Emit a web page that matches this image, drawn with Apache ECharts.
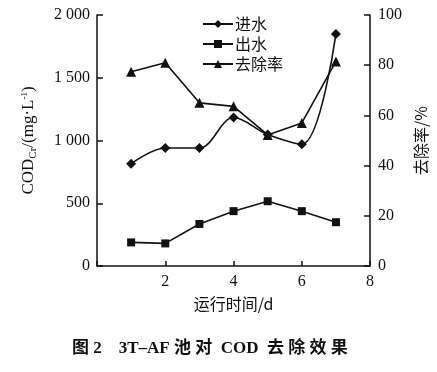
<!DOCTYPE html>
<html><head><meta charset="utf-8">
<script src="https://cdn.jsdelivr.net/npm/echarts@6/dist/echarts.min.js"></script>
<style>html,body{margin:0;padding:0;background:#fff;}#c{width:437px;height:372px;}</style>
</head><body><div id="c"></div>
<script>
var days = [1, 2, 3, 4, 5, 6, 7];
var influent = [815, 940, 940, 1183, 1048, 970, 1849];
var effluent = [188, 180, 335, 437, 516, 437, 349];
var removal = [77.4, 81, 65, 63.6, 52.2, 57, 81.5];
var leftTicks = ['0', '500', '1 000', '1 500', '2 000'];
var names = ['进水', '出水', '去除率'];

function pairs(xs, ys) { return xs.map(function (x, i) { return [x, ys[i]]; }); }

var serif = 'Liberation Serif';
var cjk = 'Noto Sans CJK SC';
var chart = echarts.init(document.getElementById('c'));
chart.setOption({
  animation: false,
  backgroundColor: '#fff',
  title: {
    text: '图 2    3T–AF 池 对  COD  去 除 效 果',
    left: 72, top: 340, padding: 0,
    textStyle: { fontFamily: serif + ',' + cjk, fontSize: 17, fontWeight: 'bold', color: '#111' }
  },
  legend: {
    orient: 'vertical', left: 197, top: 11, itemGap: 4,
    itemWidth: 30, itemHeight: 10,
    textStyle: { fontFamily: cjk, fontSize: 16, color: '#111', padding: [0, 0, 0, -3] },
    data: names
  },
  grid: { left: 97, right: 64, top: 15, bottom: 106 },
  xAxis: {
    type: 'value', min: 0, max: 8, interval: 2,
    name: '运行时间/d', nameLocation: 'middle', nameGap: 30,
    nameTextStyle: { fontFamily: cjk, fontSize: 16, color: '#111' },
    axisLine: { lineStyle: { color: '#111', width: 1.5 } },
    axisTick: { inside: true, length: 5, lineStyle: { color: '#111', width: 1.5 } },
    axisLabel: { fontFamily: serif, fontSize: 16, color: '#111', margin: 8,
      formatter: function (v) { return v === 0 ? '' : String(v); } },
    splitLine: { show: false }
  },
  yAxis: [{
    type: 'value', min: 0, max: 2000, interval: 500,
    name: '{a|COD}{s|Cr}{a|/(mg·L}{p|-1}{a|)}', nameLocation: 'middle', nameGap: 58, nameRotate: 90,
    nameTextStyle: { rich: {
      a: { fontFamily: serif, fontSize: 17, color: '#111' },
      s: { fontFamily: serif, fontSize: 11, color: '#111', padding: [9, 0, 0, 0] },
      p: { fontFamily: serif, fontSize: 9, color: '#111', padding: [0, 0, 9, 0] }
    } },
    axisLine: { show: true, lineStyle: { color: '#111', width: 1.5 } },
    axisTick: { show: true, inside: true, length: 6, lineStyle: { color: '#111', width: 1.5 } },
    axisLabel: { fontFamily: serif, fontSize: 16, color: '#111', margin: 7,
      formatter: function (v) { return leftTicks[v / 500]; } },
    splitLine: { show: false }
  }, {
    type: 'value', min: 0, max: 100, interval: 20, position: 'right',
    name: '去除率/%', nameLocation: 'middle', nameGap: 32, nameRotate: 90,
    nameTextStyle: { fontFamily: cjk, fontSize: 16, color: '#111' },
    axisLine: { show: true, lineStyle: { color: '#111', width: 1.5 } },
    axisTick: { show: true, inside: true, length: 6, lineStyle: { color: '#111', width: 1.5 } },
    axisLabel: { fontFamily: serif, fontSize: 16, color: '#111', margin: 8 },
    splitLine: { show: false }
  }],
  series: [{
    name: names[0], type: 'line', yAxisIndex: 0, smooth: 0.35,
    symbol: 'diamond', symbolSize: 10,
    lineStyle: { color: '#111', width: 1.6 }, itemStyle: { color: '#111' },
    data: pairs(days, influent)
  }, {
    name: names[1], type: 'line', yAxisIndex: 0,
    symbol: 'rect', symbolSize: 8,
    lineStyle: { color: '#111', width: 1.6 }, itemStyle: { color: '#111' },
    data: pairs(days, effluent)
  }, {
    name: names[2], type: 'line', yAxisIndex: 1,
    symbol: 'triangle', symbolSize: 10,
    lineStyle: { color: '#111', width: 1.6 }, itemStyle: { color: '#111' },
    data: pairs(days, removal)
  }]
});
</script></body></html>
